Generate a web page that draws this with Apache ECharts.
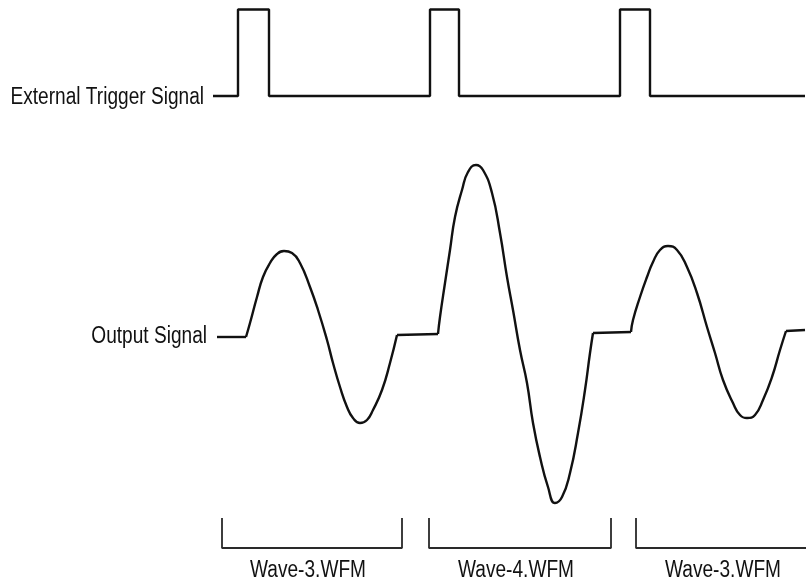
<!DOCTYPE html>
<html>
<head>
<meta charset="utf-8">
<script src="https://cdn.jsdelivr.net/npm/echarts@6/dist/echarts.min.js"></script>
<style>
html,body{margin:0;padding:0;background:#fff;}
#c{width:809px;height:582px;}
</style>
</head>
<body>
<div id="c"></div>
<script>
// ---- data (time position, signal level) ----
var triggerTime  = [213, 238, 238, 269, 269, 430, 430, 459, 459, 620, 620, 650, 650, 805];
var triggerLevel = [ 96,  96, 9.5, 9.5,  96,  96, 9.5, 9.5,  96,  96, 9.5, 9.5,  96,  96];

// output signal: flat segments
var flatTime  = [[217, 246], [397, 438], [593, 631], [786, 805]];
var flatLevel = [[337, 337], [335, 334], [333, 332], [331, 330]];

// output signal: wave segments (Wave-3, Wave-4, Wave-3)
var wave1Time  = [246, 250, 257, 263, 270, 277, 284, 292, 300, 310, 318, 327, 333, 340, 347, 353, 360, 367, 373, 382, 390, 397];
var wave1Level = [337, 323, 297, 277, 263, 254, 251, 253, 263, 287, 310, 340, 363, 387, 407, 418, 423, 420, 410, 390, 363, 335];
var wave2Time  = [438, 440, 445, 450, 455, 462, 468, 476, 483, 492, 500, 507, 513, 520, 527, 533, 540, 548, 555, 562, 570, 578, 585, 590, 593];
var wave2Level = [334, 317, 283, 250, 217, 190, 172, 165, 170, 193, 233, 277, 310, 350, 383, 423, 457, 487, 503, 497, 473, 433, 390, 353, 333];
var wave3Time  = [631, 633, 640, 647, 653, 660, 668, 677, 687, 697, 707, 715, 723, 733, 740, 747, 755, 763, 772, 780, 786];
var wave3Level = [332, 320, 297, 277, 262, 250, 246, 250, 267, 293, 327, 353, 380, 403, 415, 418, 415, 400, 377, 350, 331];

// brackets marking each waveform file
var bracketStart = [222, 429, 636];
var bracketEnd   = [402, 611, 806];
var bracketClosed = [true, true, false];
var bracketTop = 518, bracketBottom = 548;
var bracketNames = ['Wave-3.WFM', 'Wave-4.WFM', 'Wave-3.WFM'];
var bracketLabelTime = [308, 516, 723];
var bracketLabelLevel = 571;

// signal names
var signalNames = ['External Trigger Signal', 'Output Signal'];
var signalLabelTime = [204, 207];
var signalLabelLevel = [98, 337];

// ---- build ----
function zip(a, b) { return a.map(function (v, i) { return [v, b[i]]; }); }

var FONT_FAMILY = '"Liberation Sans", Arial, sans-serif';
var FONT_SIZE = 23;
var NARROW = 0.83;
var INK = '#111';
var series = [];

series.push({
  type: 'line', name: 'trigger', data: zip(triggerTime, triggerLevel),
  symbol: 'none', lineStyle: { color: INK, width: 2.4 }, z: 3
});
flatTime.forEach(function (t, i) {
  series.push({
    type: 'line', data: zip(t, flatLevel[i]), symbol: 'none',
    lineStyle: { color: INK, width: 2.4 }, z: 3
  });
});
[[wave1Time, wave1Level], [wave2Time, wave2Level], [wave3Time, wave3Level]].forEach(function (w) {
  series.push({
    type: 'line', data: zip(w[0], w[1]), symbol: 'none', smooth: 0.5,
    lineStyle: { color: INK, width: 2.4, join: 'round' }, z: 3
  });
});
bracketStart.forEach(function (s, i) {
  var pts = [[s, bracketTop], [s, bracketBottom], [bracketEnd[i], bracketBottom]];
  if (bracketClosed[i]) pts.push([bracketEnd[i], bracketTop]);
  series.push({
    type: 'line', data: pts, symbol: 'none',
    lineStyle: { color: '#2a2a2a', width: 1.8 }, z: 2
  });
});

var chart = echarts.init(document.getElementById('c'), null, { renderer: 'canvas' });
chart.setOption({
  animation: false,
  backgroundColor: '#fff',
  grid: { left: 0, right: 0, top: 0, bottom: 0 },
  xAxis: { type: 'value', min: 0, max: 809, show: false },
  yAxis: { type: 'value', min: 0, max: 582, inverse: true, show: false },
  series: series
});

// condensed text labels, positioned through the axes
function textEl(str, t, lv, align) {
  var p = chart.convertToPixel({ xAxisIndex: 0, yAxisIndex: 0 }, [t, lv]);
  return {
    type: 'text', x: p[0], y: p[1], scaleX: NARROW, scaleY: 1, silent: true,
    style: {
      text: str, fill: INK, fontSize: FONT_SIZE, fontFamily: FONT_FAMILY,
      align: align, verticalAlign: 'middle'
    }
  };
}
var graphics = [];
signalNames.forEach(function (n, i) {
  graphics.push(textEl(n, signalLabelTime[i], signalLabelLevel[i], 'right'));
});
bracketNames.forEach(function (n, i) {
  graphics.push(textEl(n, bracketLabelTime[i], bracketLabelLevel, 'center'));
});
chart.setOption({ graphic: graphics });
</script>
</body>
</html>
